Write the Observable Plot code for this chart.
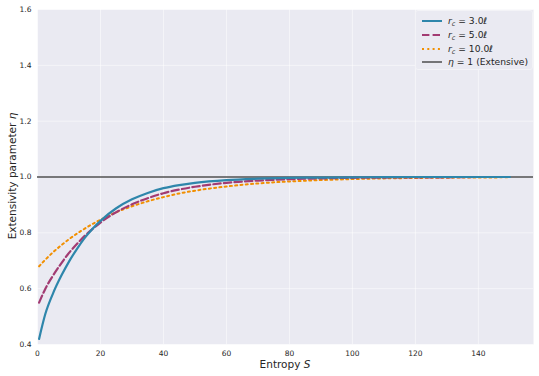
<!DOCTYPE html>
<html>
<head>
<meta charset="utf-8">
<script src="https://cdn.jsdelivr.net/npm/d3@7"></script>
<script src="https://cdn.jsdelivr.net/npm/@observablehq/plot@0.6"></script>
<style>
  html, body { margin: 0; padding: 0; background: #fff; }
  #wrap { position: relative; width: 539px; height: 376px; font-family: "DejaVu Sans", sans-serif; color: #262626; }
  .ov { position: absolute; white-space: nowrap; }
  #legend { position: absolute; left: 415px; top: 10px; width: 116px; height: 58px; background: #EAEAF2; border: 1px solid #f3f3f7; border-radius: 3px; font-size: 9.2px; }
  .row { position: absolute; left: 0; height: 12px; line-height: 12px; }
  .row svg { position: absolute; left: 6px; top: 0; }
  .row span { position: absolute; left: 32px; top: 0; white-space: nowrap; }
  sub { font-size: 70%; vertical-align: -2px; line-height: 0; }
</style>
</head>
<body>
<div id="wrap"></div>
<script>
// Entropy S sample points
const S = [0.5, 2.5, 5, 7.5, 10, 12.5, 15, 17.5, 20, 25, 30, 35, 40, 45, 50, 60, 70, 80, 90, 100, 110, 120, 130, 140, 150];
// eta for r_c = 3.0
const eta3 = [0.42, 0.51, 0.585, 0.645, 0.697, 0.742, 0.782, 0.815, 0.843, 0.888, 0.920, 0.943, 0.960, 0.971, 0.979, 0.989, 0.994, 0.997, 0.998, 0.999, 0.9995, 1.0, 1.0, 1.0, 1.0];
// eta for r_c = 5.0
const eta5 = [0.55, 0.600, 0.648, 0.690, 0.728, 0.760, 0.789, 0.814, 0.837, 0.874, 0.902, 0.924, 0.942, 0.955, 0.965, 0.979, 0.987, 0.992, 0.995, 0.997, 0.998, 0.999, 0.999, 1.0, 1.0];
// eta for r_c = 10.0
const eta10 = [0.68, 0.704, 0.731, 0.755, 0.777, 0.797, 0.815, 0.832, 0.847, 0.874, 0.895, 0.913, 0.928, 0.941, 0.951, 0.966, 0.977, 0.984, 0.989, 0.9925, 0.995, 0.9965, 0.9976, 0.9983, 0.9989];
const xTicks = [0, 20, 40, 60, 80, 100, 120, 140];
const yTicks = [0.4, 0.6, 0.8, 1.0, 1.2, 1.4, 1.6];

const rows = (ys) => S.map((s, i) => ({S: s, eta: ys[i]}));

const chart = Plot.plot({
  width: 539,
  height: 376,
  marginLeft: 37,
  marginRight: 6,
  marginTop: 9,
  marginBottom: 32,
  style: {fontFamily: "DejaVu Sans, sans-serif", fontSize: "7.5px", color: "#262626", background: "transparent"},
  x: {domain: [0, 157.5]},
  y: {domain: [0.4, 1.6]},
  marks: [
    Plot.frame({fill: "#EAEAF2", stroke: null}),
    Plot.gridX(xTicks, {stroke: "#fff", strokeOpacity: 0.65, strokeWidth: 0.8}),
    Plot.gridY(yTicks, {stroke: "#fff", strokeOpacity: 0.65, strokeWidth: 0.8}),
    Plot.axisX(xTicks, {tickSize: 0, tickPadding: 6, label: null, fill: "#262626"}),
    Plot.axisY(yTicks, {tickSize: 0, tickPadding: 6, label: null, tickFormat: d3.format(".1f"), fill: "#262626"}),
    Plot.ruleY([1], {stroke: "#333", strokeWidth: 1.3, strokeOpacity: 0.85}),
    Plot.line(rows(eta10), {x: "S", y: "eta", stroke: "#F18F01", strokeWidth: 2, strokeDasharray: "2,3.3", curve: "monotone-x"}),
    Plot.line(rows(eta5), {x: "S", y: "eta", stroke: "#A23B72", strokeWidth: 2.2, strokeDasharray: "7.4,3.2", curve: "monotone-x"}),
    Plot.line(rows(eta3), {x: "S", y: "eta", stroke: "#2E86AB", strokeWidth: 2.2, curve: "monotone-x"})
  ]
});

const wrap = document.getElementById("wrap");
wrap.appendChild(chart);

// axis labels
const xl = document.createElement("div");
xl.className = "ov";
xl.style.cssText = "left:285px; top:358px; transform:translateX(-50%); font-size:10.5px;";
xl.innerHTML = "Entropy <i>S</i>";
wrap.appendChild(xl);

const yl = document.createElement("div");
yl.className = "ov";
yl.style.cssText = "left:12px; top:176px; transform:translate(-50%,-50%) rotate(-90deg); font-size:10.5px;";
yl.innerHTML = "Extensivity parameter <i>η</i>";
wrap.appendChild(yl);

// legend
const legendItems = [
  {html: "<i>r</i><sub><i>c</i></sub> = 3.0<i>ℓ</i>", color: "#2E86AB", dash: "", w: 2},
  {html: "<i>r</i><sub><i>c</i></sub> = 5.0<i>ℓ</i>", color: "#A23B72", dash: "7.4,3.2", w: 2.2},
  {html: "<i>r</i><sub><i>c</i></sub> = 10.0<i>ℓ</i>", color: "#F18F01", dash: "2,3.3", w: 2},
  {html: "<i>η</i> = 1 (Extensive)", color: "#333", dash: "", w: 1.3}
];
const lg = document.createElement("div");
lg.id = "legend";
legendItems.forEach((it, i) => {
  const r = document.createElement("div");
  r.className = "row";
  r.style.top = (4 + i * 13.8) + "px";
  r.innerHTML = `<svg width="22" height="12"><line x1="0" x2="20" y1="6" y2="6" stroke="${it.color}" stroke-width="${it.w}" ${it.dash ? `stroke-dasharray="${it.dash}"` : ""}/></svg><span>${it.html}</span>`;
  lg.appendChild(r);
});
wrap.appendChild(lg);
</script>
</body>
</html>
